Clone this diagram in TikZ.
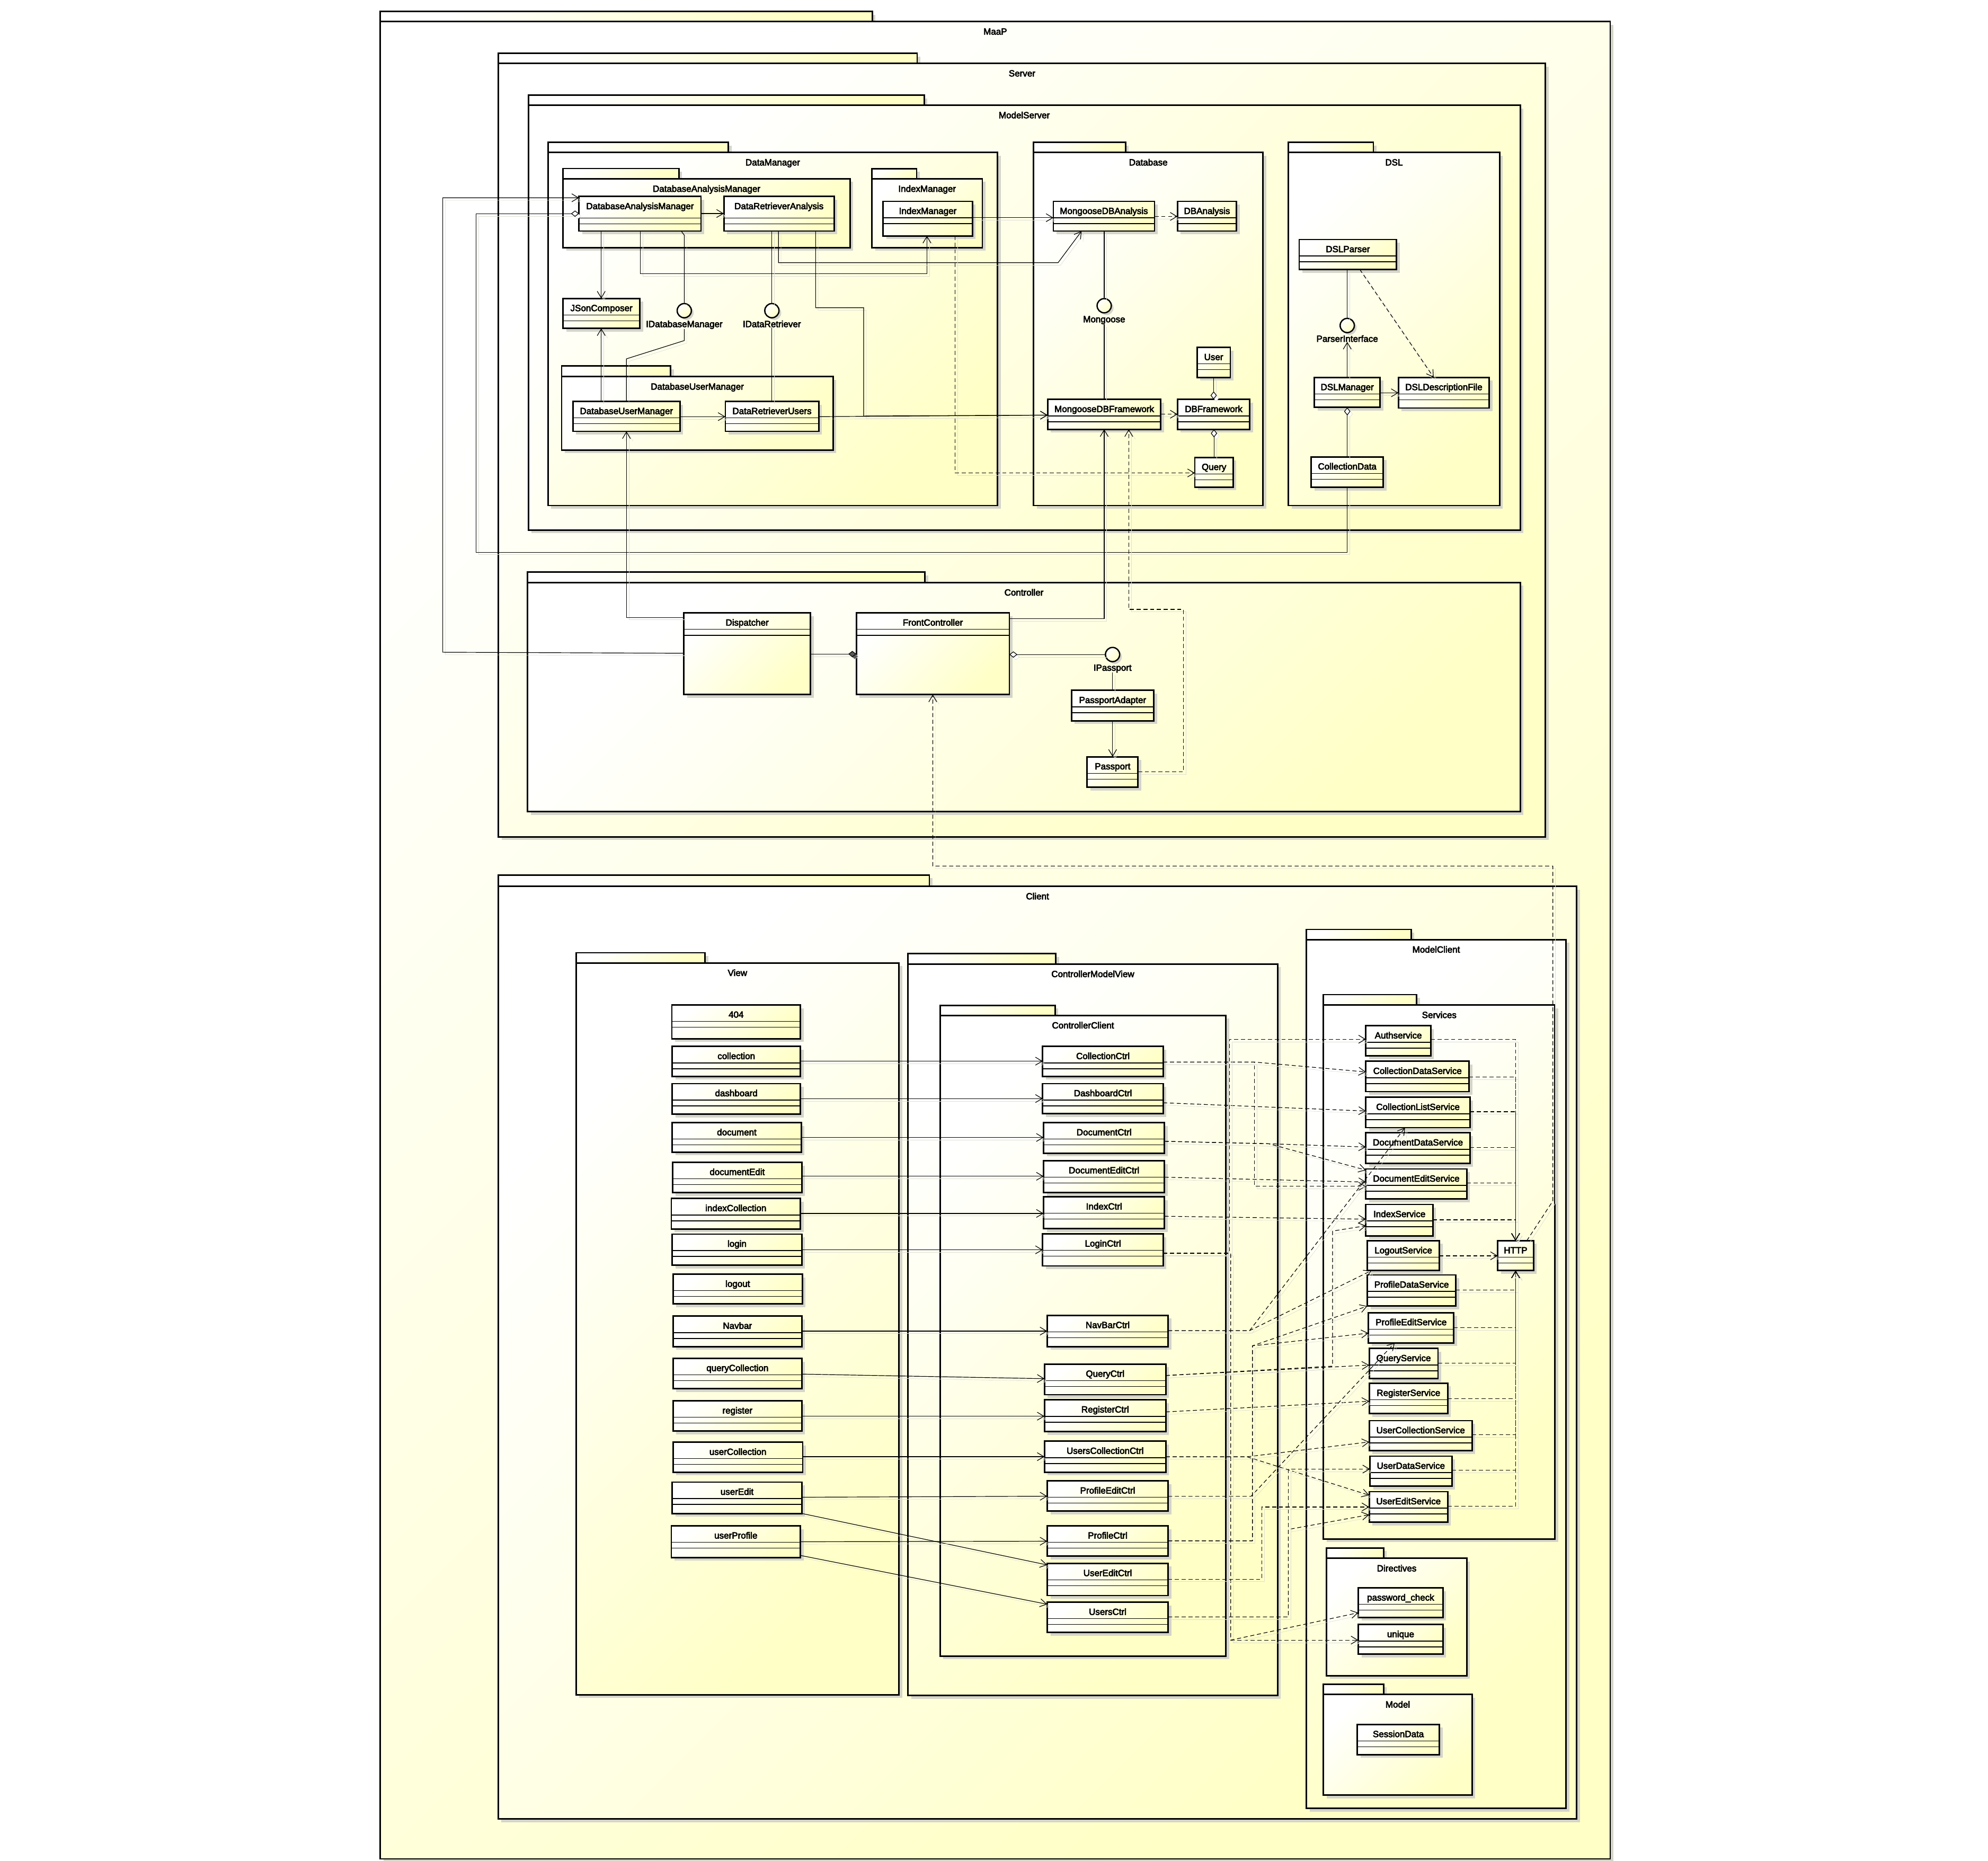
\documentclass[tikz,border=0pt]{standalone}
\usepackage{fontspec}
\setmainfont{Liberation Sans}
\newfontfamily\lblfam{Liberation Sans}[FakeBold=4]
\usetikzlibrary{arrows.meta,fit,shadows,calc}
\definecolor{umlY}{RGB}{255,255,198}
\definecolor{shadowc}{RGB}{212,212,202}
\definecolor{lshadow}{RGB}{222,222,214}
\newcommand\lblfont{\lblfam\fontsize{10.1}{12}\selectfont}
\tikzset{
  yshade/.style={top color=white, bottom color=umlY, shading angle=45},
  boxbase/.style={draw=black, line width=1.7pt, yshade,
    inner sep=0pt, outer sep=0pt,
    drop shadow={shadow xshift=3.6pt, shadow yshift=-3.6pt, fill=shadowc, opacity=1}},
  sepline/.style={line width=0.8pt},
  lbl/.style={font=\lblfont, inner sep=0pt, outer sep=0pt},
  iface/.style={circle, draw=black, line width=1.5pt, minimum size=5.6mm, inner sep=0pt,
    yshade,
    drop shadow={shadow xshift=2.5pt, shadow yshift=-2.5pt, fill=shadowc, opacity=1}},
  conn/.style={draw=black, line width=0.7pt, line join=miter,
    preaction={draw=lshadow, solid, transform canvas={shift={(2.8pt,-2.8pt)}}}},
  oarr/.style={conn, -{Straight Barb[length=7.5pt,width=9pt]}},
  darr/.style={oarr, dash pattern=on 4.6pt off 3pt},
  agg/.style={conn, {Diamond[length=9pt,width=7pt,fill=white]}-},
  cmp/.style={conn, {Diamond[length=9pt,width=7pt,fill=black!65]}-},
}
% package: name, x1, tabtop, tabright, bodytop, x2, y2, label
\newcommand\pkg[8]{%
  \node[boxbase, fit={(#2,#3) (#4,#5)}] (#1tab) {};
  \node[boxbase, fit={(#2,#5) (#6,#7)}] (#1) {};
  \node[lbl, anchor=base] (#1title) at ({(#2+#6)/2},#5+10.3) {#8};
}
% class: [namecomp], name, x1, y1, x2, y2, label
\newcommand\cls[7][13]{%
  \node[boxbase, fit={(#3,#4) (#5,#6)}] (#2) {};
  \draw[sepline] (#3,#4+#1) -- (#5,#4+#1);
  \draw[sepline] (#3,#4+#1+4.6) -- (#5,#4+#1+4.6);
  \node[lbl, anchor=base] (#2name) at ({(#3+#5)/2},#4+10) {#7};
}
\begin{document}
\begin{tikzpicture}[x=0.5mm,y=-0.5mm]
\fill[white] (0,0) rectangle (1568,1467.6);
\useasboundingbox (0,0) rectangle (1568,1467.6);

% ---------------- packages ----------------
\pkg{maap}{300}{9}{688}{17}{1270}{1466}{MaaP}
\pkg{server}{393.2}{42}{723.4}{50}{1219}{660}{Server}
\pkg{modelserver}{416.7}{75}{729}{83}{1199}{418}{ModelServer}
\pkg{datamanager}{432.2}{112.2}{574.5}{120.2}{786.8}{398.7}{DataManager}
\pkg{pdam}{444.2}{132.9}{535.4}{141}{670.4}{195.3}{DatabaseAnalysisManager}
\pkg{pidx}{687.7}{133}{723}{141}{774.8}{195.3}{IndexManager}
\pkg{pdum}{443}{288.7}{528.9}{297}{657}{354.9}{DatabaseUserManager}
\pkg{database}{815.2}{112.2}{887.8}{120.2}{996.2}{398.7}{Database}
\pkg{dsl}{1016.2}{112.2}{1083.2}{120.2}{1182.8}{398.7}{DSL}
\pkg{controller}{416.2}{451.3}{729.6}{459.4}{1199}{640}{Controller}
\pkg{client}{393}{690}{733}{699}{1243.6}{1434.6}{Client}
\pkg{view}{454.3}{751.4}{556.1}{759.4}{709}{1336.5}{View}
\pkg{cmv}{716.2}{752.2}{832.8}{760.3}{1007.7}{1337.1}{ControllerModelView}
\pkg{cclient}{741.4}{792.8}{832.1}{800.8}{967}{1306}{ControllerClient}
\pkg{modelclient}{1030.4}{733}{1113}{741}{1235.1}{1426.2}{ModelClient}
\pkg{services}{1043.8}{784.4}{1117.4}{792.6}{1226.5}{1213.7}{Services}
\pkg{directives}{1046.4}{1220.8}{1091.2}{1229}{1156.8}{1321.5}{Directives}
\pkg{model}{1043.8}{1328.2}{1091.2}{1336.4}{1161.1}{1415.8}{Model}

% ---------------- server classes ----------------
\cls[17]{dam}{456.7}{155}{552.9}{182.2}{DatabaseAnalysisManager}
\cls[17]{dra}{570.9}{155}{657.9}{182.2}{DataRetrieverAnalysis}
\cls{idxm}{696.6}{158.8}{766.9}{186}{IndexManager}
\cls{json}{444.2}{235.4}{504.6}{259}{JSonComposer}
\cls{dum}{451.9}{316.6}{536.3}{340.2}{DatabaseUserManager}
\cls{dru}{572.1}{316.6}{645.7}{340.2}{DataRetrieverUsers}
\cls{mdba}{830.8}{158.8}{910.6}{182.2}{MongooseDBAnalysis}
\cls{dba}{928.7}{158.8}{975.3}{182.2}{DBAnalysis}
\cls{mdbf}{826.3}{315}{915.6}{338.6}{MongooseDBFramework}
\cls{dbf}{928.7}{315}{985.8}{338.6}{DBFramework}
\cls{user}{944.1}{274}{970.4}{297.7}{User}
\cls{query}{942.4}{360.7}{972.6}{384.1}{Query}
\cls{dslp}{1024.7}{188.9}{1101.5}{212.5}{DSLParser}
\cls{dslm}{1036.6}{297.7}{1088.6}{321.3}{DSLManager}
\cls{dsld}{1103}{297.7}{1174.6}{321.8}{DSLDescriptionFile}
\cls{cdata}{1034.1}{360.3}{1091.1}{384.3}{CollectionData}
\cls{disp}{539.4}{483.4}{639.2}{547.8}{Dispatcher}
\cls{fc}{675.4}{483.4}{796.1}{547.8}{FrontController}
\cls{padapt}{845.1}{544.5}{910}{568.5}{PassportAdapter}
\cls{passport}{857.5}{596.8}{897.6}{620.8}{Passport}

% interfaces
\node[iface] (i_idm) at (539.7,245) {};
\node[lbl, anchor=base] (l_idm) at (539.7,258) {IDatabaseManager};
\node[iface] (i_idr) at (608.8,245) {};
\node[lbl, anchor=base] (l_idr) at (608.8,258) {IDataRetriever};
\node[iface] (i_mg) at (870.9,241.1) {};
\node[lbl, anchor=base] (l_mg) at (870.9,254.2) {Mongoose};
\node[iface] (i_pi) at (1062.6,256.7) {};
\node[lbl, anchor=base] (l_pi) at (1062.6,269.6) {ParserInterface};
\node[iface] (i_pp) at (877.5,516.2) {};
\node[lbl, anchor=base] (l_pp) at (877.5,529) {IPassport};

% ---------------- client classes ----------------
\cls{v404}{529.9}{792.6}{631.3}{819.2}{404}
\cls{vcollection}{530.2}{825.3}{631.3}{848.9}{collection}
\cls{vdashboard}{530.2}{854.6}{631.3}{878.7}{dashboard}
\cls{vdocument}{530.2}{885.4}{632}{908.7}{document}
\cls{vdocedit}{530.5}{916.7}{632.4}{940.5}{documentEdit}
\cls{vindex}{529.5}{945.2}{631.3}{969.3}{indexCollection}
\cls{vlogin}{530.2}{973.3}{632.4}{997.8}{login}
\cls{vlogout}{530.9}{1004.9}{632.8}{1028.4}{logout}
\cls{vnavbar}{530.9}{1038}{632.4}{1062}{Navbar}
\cls{vquery}{530.9}{1071.3}{632.4}{1095.2}{queryCollection}
\cls{vregister}{530.9}{1104.8}{632.4}{1128.7}{register}
\cls{vusercoll}{530.9}{1137.4}{633.1}{1161}{userCollection}
\cls{vuseredit}{530.2}{1168.9}{632.4}{1193.6}{userEdit}
\cls{vuserprof}{529.5}{1203.4}{631.3}{1228.3}{userProfile}

\cls{ccollection}{822.4}{825.3}{917.4}{848.9}{CollectionCtrl}
\cls{cdashboard}{822.4}{854.6}{917.4}{878.3}{DashboardCtrl}
\cls{cdocument}{823.1}{885.4}{918.5}{909.5}{DocumentCtrl}
\cls{cdocedit}{823.1}{915.4}{918.5}{940.5}{DocumentEditCtrl}
\cls{cindex}{823.1}{943.9}{918.5}{969}{IndexCtrl}
\cls{clogin}{822.4}{973.1}{917.4}{998.4}{LoginCtrl}
\cls{cnavbar}{826}{1037.4}{921.3}{1062}{NavBarCtrl}
\cls{cquery}{823.8}{1075.8}{919.5}{1099.9}{QueryCtrl}
\cls{cregister}{823.8}{1104}{919.5}{1129.1}{RegisterCtrl}
\cls{cuserscoll}{823.8}{1136.6}{919.5}{1161}{UsersCollectionCtrl}
\cls{cprofedit}{826}{1167.9}{921.3}{1191.8}{ProfileEditCtrl}
\cls{cprofile}{826}{1203.4}{921.3}{1227.3}{ProfileCtrl}
\cls{cuseredit}{826}{1233}{921.3}{1258.3}{UserEditCtrl}
\cls{cusers}{826}{1263.6}{921.3}{1287.4}{UsersCtrl}

\cls{s_auth}{1077.3}{809}{1128.5}{832.7}{Authservice}
\cls{s_cdata}{1077.3}{837}{1158.7}{860.9}{CollectionDataService}
\cls{s_clist}{1077.3}{865.4}{1159.4}{889.3}{CollectionListService}
\cls{s_docdata}{1077.3}{893.4}{1159.4}{917.6}{DocumentDataService}
\cls{s_docedit}{1077.3}{921.9}{1156.8}{945.6}{DocumentEditService}
\cls{s_index}{1077.3}{949.9}{1130.2}{974.7}{IndexService}
\cls{s_logout}{1078.4}{978.5}{1135.3}{1002.1}{LogoutService}
\cls{s_pdata}{1078.4}{1005.5}{1148.3}{1030.1}{ProfileDataService}
\cls{s_pedit}{1079.4}{1035.2}{1146.6}{1059.1}{ProfileEditService}
\cls{s_query}{1079.9}{1063.5}{1134.2}{1087.2}{QueryService}
\cls{s_register}{1079.9}{1090.9}{1141.9}{1114.8}{RegisterService}
\cls{s_ucoll}{1079.9}{1120.4}{1161.1}{1144.1}{UserCollectionService}
\cls{s_udata}{1080.5}{1148.4}{1145.1}{1172.1}{UserDataService}
\cls{s_uedit}{1079.9}{1176.4}{1141.9}{1200.6}{UserEditService}
\cls{http}{1181.3}{978.5}{1209.5}{1002.1}{HTTP}
\cls{d_pwd}{1071.3}{1252.3}{1138.1}{1275.6}{password\_check}
\cls{d_unique}{1071.3}{1281.2}{1138.1}{1304.6}{unique}
\cls{m_session}{1070.5}{1360}{1135.3}{1383.8}{SessionData}

% ---------------- server connectors ----------------
\draw[oarr] (disp.west |- 0,515.2) -- (349.2,514.4) -- (349.2,156) -- (dam.west |- 0,156);
\draw[agg] (dam.west |- 0,168.5) -- (375.5,168.5) -- (375.5,435.5) -- (cdata.south |- 0,435.5) -- (cdata.south);
\draw[oarr] (dam.east |- 0,168.4) -- (dra.west |- 0,168.4);
\draw[oarr] (dam.south -| 474.2,0) -- (json.north -| 474.2,0);
\draw[oarr] (dam.south -| 504.9,0) -- (504.9,215.8) -- (731.1,215.8) -- (idxm.south -| 731.1,0);
\draw[conn] (dam.south -| 537.3,0) -- (539.7,185.5) -- (i_idm.north);
\draw[conn] (dra.south -| i_idr) -- (i_idr.north);
\draw[oarr] (dra.south -| 614,0) -- (614,207.2) -- (834.5,207.2) -- (mdba.south -| 853.1,0);
\draw[oarr] (dra.south -| 643.3,0) -- (643.3,242.7) -- (681.2,242.7) -- (681.2,328.1) -- (mdbf.west |- 0,327.4);
\draw[oarr] (idxm.east |- 0,171.7) -- (mdba.west |- 0,171.7);
\draw[darr] (idxm.south -| 753.2,0) -- (753.2,373) -- (query.west |- 0,373);
\draw[oarr] (dum.east |- 0,328.6) -- (dru.west |- 0,328.6);
\draw[oarr] (dum.north -| 474.2,0) -- (json.south -| 474.2,0);
\draw[conn] (dum.north -| 494.1,0) -- (494.1,283) -- (539.7,268.6) -- (l_idm.south);
\draw[conn] (dru.north -| l_idr.south) -- (l_idr.south);
\draw[oarr] (dru.east |- 0,328.6) -- (mdbf.west |- 0,327.4);
\draw[darr] (mdba.east |- 0,170.7) -- (dba.west |- 0,170.7);
\draw[conn] (mdba.south -| i_mg) -- (i_mg.north);
\draw[conn] (l_mg.south) -- (mdbf.north -| l_mg.south);
\draw[darr] (mdbf.east |- 0,326.7) -- (dbf.west |- 0,326.7);
\draw[agg] (dbf.north -| user.south) -- (user.south);
\draw[agg] (dbf.south -| query.north) -- (query.north);
\draw[conn] (dslp.south -| i_pi) -- (i_pi.north);
\draw[oarr] (dslm.north -| l_pi.south) -- (l_pi.south);
\draw[darr] (dslp.south -| 1072.5,0) -- (dsld.north -| 1130.8,0);
\draw[oarr] (dslm.east |- 0,309.8) -- (dsld.west |- 0,309.8);
\draw[agg] (dslm.south -| cdata.north) -- (cdata.north);
\draw[oarr] (disp.west |- 0,486.9) -- (494.1,486.9) -- (dum.south -| 494.1,0);
\draw[oarr] (fc.east |- 0,487.9) -- (870.9,487.9) -- (mdbf.south -| 870.9,0);
\draw[darr] (passport.east |- 0,608.7) -- (933.4,608.7) -- (933.4,480.6) -- (890.3,480.6) -- (mdbf.south -| 890.3,0);
\draw[cmp] (fc.west |- 0,515.8) -- (disp.east |- 0,515.8);
\draw[agg] (fc.east |- 0,516.2) -- (i_pp.west);
\draw[conn] (l_pp.south) -- (padapt.north -| l_pp.south);
\draw[oarr] (padapt.south -| passport.north) -- (passport.north);
\draw[darr] (http.north -| 1204.2,0) -- (1224.8,947.1) -- (1224.8,683) -- (735.7,683) -- (fc.south -| 735.7,0);

% ---------------- view -> controllers ----------------
\draw[oarr] (vcollection.east |- 0,836.9) -- (ccollection.west |- 0,836.9);
\draw[oarr] (vdashboard.east |- 0,866.4) -- (cdashboard.west |- 0,866.4);
\draw[oarr] (vdocument.east |- 0,897.1) -- (cdocument.west |- 0,897.1);
\draw[oarr] (vdocedit.east |- 0,927.7) -- (cdocedit.west |- 0,927.7);
\draw[oarr] (vindex.east |- 0,957) -- (cindex.west |- 0,957);
\draw[oarr] (vlogin.east |- 0,985.7) -- (clogin.west |- 0,985.7);
\draw[oarr] (vnavbar.east |- 0,1049.8) -- (cnavbar.west |- 0,1049.8);
\draw[oarr] (vquery.east |- 0,1083.7) -- (cquery.west |- 0,1087.3);
\draw[oarr] (vregister.east |- 0,1116.9) -- (cregister.west |- 0,1116.9);
\draw[oarr] (vusercoll.east |- 0,1148.8) -- (cuserscoll.west |- 0,1148.8);
\draw[oarr] (vuseredit.east |- 0,1180.8) -- (cprofedit.west |- 0,1180);
\draw[oarr] (vuseredit.south east) -- (cuseredit.west |- 0,1234.2);
\draw[oarr] (vuserprof.east |- 0,1215.9) -- (cprofile.west |- 0,1215.5);
\draw[oarr] (vuserprof.east |- 0,1226.7) -- (cusers.west |- 0,1265.2);

% ---------------- controllers -> services ----------------
\draw[darr] (ccollection.east |- 0,837.6) -- (989.5,837.6) -- (s_cdata.west |- 0,845.4);
\draw[darr] (ccollection.east |- 0,837.6) -- (989.5,837.6) -- (989.5,935.6) -- (s_docedit.west |- 0,935.6);
\draw[darr] (cdashboard.east |- 0,869.7) -- (s_clist.west |- 0,876.2);
\draw[darr] (cdocument.east |- 0,900.1) -- (1000.5,902) -- (s_docdata.west |- 0,904.6);
\draw[darr] (cdocument.east |- 0,900.1) -- (1000.5,902) -- (s_docedit.west |- 0,922.8);
\draw[darr] (cdocedit.east |- 0,928.4) -- (s_docedit.west |- 0,932.2);
\draw[darr] (cindex.east |- 0,959.2) -- (s_index.west |- 0,961.5);
\draw[darr] (clogin.east |- 0,988) -- (969.6,988) -- (969.6,819.6) -- (s_auth.west |- 0,819.6);
\draw[darr] (clogin.east |- 0,988.6) -- (970.7,988.6) -- (970.7,1293.5) -- (d_unique.west |- 0,1293.5);
\draw[darr] (clogin.east |- 0,988.6) -- (970.7,988.6) -- (970.7,1293.5) -- (d_pwd.west |- 0,1271.9);
\draw[darr] (cnavbar.east |- 0,1049.4) -- (985.6,1049.4) -- (s_clist.south -| 1108.2,0);
\draw[darr] (cnavbar.east |- 0,1049.4) -- (985.6,1049.4) -- (s_logout.south -| 1081.6,0);
\draw[darr] (cquery.east |- 0,1084.8) -- (s_query.west |- 0,1076.6);
\draw[darr] (cquery.east |- 0,1084.8) -- (1051,1077.4) -- (1051,970.9) -- (s_index.west |- 0,966.7);
\draw[darr] (cregister.east |- 0,1113.5) -- (s_register.west |- 0,1105.1);
\draw[darr] (cuserscoll.east |- 0,1148.9) -- (983.5,1148.9) -- (s_ucoll.west |- 0,1137.2);
\draw[darr] (cuserscoll.east |- 0,1148.9) -- (983.5,1148.9) -- (s_uedit.west |- 0,1179.2);
\draw[darr] (cprofedit.east |- 0,1180.1) -- (986.7,1180.1) -- (s_pedit.south -| 1100,0);
\draw[darr] (cprofile.east |- 0,1215.2) -- (987.8,1215.2) -- (987.8,1061.4) -- (s_pdata.west |- 0,1030.1);
\draw[darr] (cprofile.east |- 0,1215.2) -- (987.8,1215.2) -- (987.8,1061.4) -- (s_pedit.west |- 0,1051.4);
\draw[darr] (cuseredit.east |- 0,1245.4) -- (995.2,1245.4) -- (995.2,1188.5) -- (s_uedit.west |- 0,1188.5);
\draw[darr] (cusers.east |- 0,1275.2) -- (1016.1,1275.2) -- (1016.1,1206.2) -- (s_uedit.west |- 0,1194.6);
\draw[darr] (cusers.east |- 0,1275.2) -- (1016.1,1275.2) -- (1016.1,1158.6) -- (s_udata.west |- 0,1158.6);

% ---------------- services -> HTTP ----------------
\draw[darr] (s_auth.east |- 0,819.8) -- (http.north |- 0,819.8) -- (http.north);
\draw[darr] (s_cdata.east |- 0,849.5) -- (http.north |- 0,849.5) -- (http.north);
\draw[darr] (s_clist.east |- 0,876.8) -- (http.north |- 0,876.8) -- (http.north);
\draw[darr] (s_docdata.east |- 0,905.1) -- (http.north |- 0,905.1) -- (http.north);
\draw[darr] (s_docedit.east |- 0,933.1) -- (http.north |- 0,933.1) -- (http.north);
\draw[darr] (s_index.east |- 0,962) -- (http.north |- 0,962) -- (http.north);
\draw[darr] (s_logout.east |- 0,990.4) -- (http.west |- 0,990.4);
\draw[darr] (s_pdata.east |- 0,1017.5) -- (http.south |- 0,1017.5) -- (http.south);
\draw[darr] (s_pedit.east |- 0,1047) -- (http.south |- 0,1047) -- (http.south);
\draw[darr] (s_query.east |- 0,1075) -- (http.south |- 0,1075) -- (http.south);
\draw[darr] (s_register.east |- 0,1103.2) -- (http.south |- 0,1103.2) -- (http.south);
\draw[darr] (s_ucoll.east |- 0,1131.6) -- (http.south |- 0,1131.6) -- (http.south);
\draw[darr] (s_udata.east |- 0,1159.6) -- (http.south |- 0,1159.6) -- (http.south);
\draw[darr] (s_uedit.east |- 0,1188) -- (http.south |- 0,1188) -- (http.south);
\end{tikzpicture}
\end{document}
